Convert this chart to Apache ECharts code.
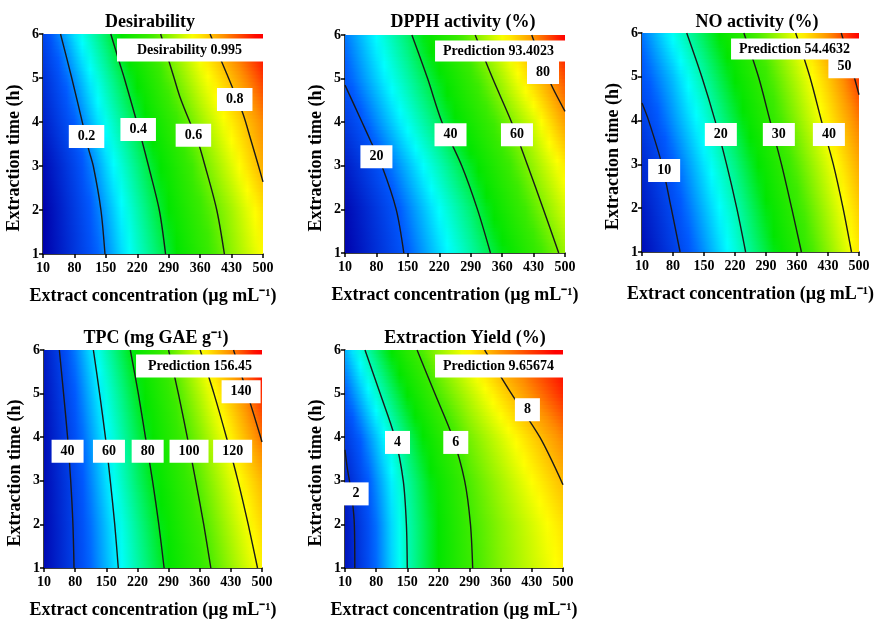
<!DOCTYPE html>
<html>
<head>
<meta charset="utf-8">
<script src="https://cdn.jsdelivr.net/npm/echarts@6/dist/echarts.min.js"></script>
<style>
  html, body { margin: 0; padding: 0; background: #fff; }
  #chart { width: 890px; height: 621px; }
</style>
</head>
<body>
<div id="chart"></div>
<script>
// ===== shared axes =====
const xTicks = [10, 80, 150, 220, 290, 360, 430, 500];
const yRows = [1, 2, 3, 4, 5, 6];

// ===== Desirability =====
// surface: one row per extraction time (1..6 h), one value per xTicks column
const desirValues = [
  [0.00, 0.10, 0.20, 0.31, 0.41, 0.52, 0.63, 0.73],
  [0.00, 0.11, 0.22, 0.33, 0.44, 0.55, 0.65, 0.76],
  [0.02, 0.13, 0.25, 0.36, 0.47, 0.59, 0.70, 0.82],
  [0.06, 0.17, 0.29, 0.40, 0.52, 0.64, 0.75, 0.86],
  [0.09, 0.21, 0.33, 0.45, 0.58, 0.70, 0.81, 0.93],
  [0.13, 0.26, 0.38, 0.51, 0.63, 0.76, 0.89, 1.00]
];
const desirRange = [0, 1];
const desirLines = [
  [[148, 1], [139, 2], [122, 3], [111, 3.4], [100, 3.89], [74, 5], [49, 6]],
  [[283, 1], [269, 2], [245, 3], [230, 3.59], [219, 4], [191, 5], [181, 5.33], [161, 6]],
  [[414, 1], [397, 2], [371, 3], [354, 3.59], [337, 4], [315, 4.57], [302, 5], [272, 6]],
  [[500, 2.64], [490, 3], [473, 3.59], [455, 4.2], [419, 5.1], [382, 6]]
];
const desirLabels = [[107, 3.67, '0.2'], [222, 3.83, '0.4'], [345, 3.7, '0.6'], [437, 4.51, '0.8']];
const desirOptimum = [500, 6, 'Desirability 0.995'];

// ===== DPPH activity (%) =====
const dpphValues = [
  [6.4, 13.7, 20.9, 28.2, 35.4, 43.4, 52.6, 61.8],
  [7.4, 15.1, 22.9, 30.6, 38.3, 47.7, 57.3, 66.5],
  [10.8, 18.7, 26.5, 34.4, 42.7, 52.2, 61.8, 71.3],
  [15.7, 23.6, 31.4, 39.3, 48.2, 57.4, 66.6, 79.0],
  [20.0, 27.6, 35.3, 43.6, 53.2, 63.4, 74.5, 85.6],
  [22.5, 30.5, 38.7, 48.6, 58.6, 69.5, 80.6, 92.5]
];
const dpphRange = [6, 93.4];
const dpphLines = [
  [[141, 1], [124, 2], [92, 3], [66, 3.59], [48, 4], [10, 4.85]],
  [[334, 1], [305, 2], [270, 3], [226, 4], [194, 5], [159, 6]],
  [[486, 1], [452, 2], [417, 3], [381, 4], [339, 5], [300, 6]],
  [[500, 4.25], [472, 4.8], [451, 5.3], [426, 6]]
];
const dpphLabels = [[80, 3.21, '20'], [245, 3.71, '40'], [393, 3.71, '60'], [451, 5.14, '80']];
const dpphOptimum = [500, 6, 'Prediction 93.4023'];

// ===== NO activity (%) =====
const noValues = [
  [4.2, 8.9, 13.6, 18.4, 23.6, 29.2, 35.3, 41.7],
  [5.5, 10.3, 15.0, 19.7, 25.3, 31.0, 37.1, 43.4],
  [6.9, 11.7, 16.5, 21.5, 27.1, 33.0, 39.0, 45.5],
  [9.0, 13.7, 18.3, 23.7, 29.4, 35.3, 41.5, 48.0],
  [11.0, 15.2, 20.4, 25.9, 31.4, 37.4, 43.8, 51.0],
  [12.7, 17.8, 23.0, 28.5, 34.0, 40.3, 47.1, 53.9]
];
const noRange = [3, 54.5];
const noLines = [
  [[96, 1], [76, 2], [55, 3], [25, 4], [10, 4.4]],
  [[244, 1], [224, 2], [201, 3], [175, 4], [145, 5], [111, 6]],
  [[370, 1], [348, 2], [325, 3], [299, 4], [273, 5], [240, 6]],
  [[483, 1], [464, 2], [442, 3], [415, 4], [389, 5], [357, 6]],
  [[500, 4.59], [489, 5], [460, 6]]
];
const noLabels = [[60, 2.86, '10'], [188, 3.68, '20'], [319, 3.68, '30'], [432, 3.68, '40'], [467, 5.23, '50']];
const noOptimum = [500, 6, 'Prediction 54.4632'];

// ===== TPC (mg GAE g-1) =====
const tpcValues = [
  [26.5, 40.5, 54.6, 68.3, 82.0, 95.0, 108.6, 121.9],
  [26.3, 41.0, 55.7, 70.3, 84.4, 98.2, 112.2, 126.3],
  [26.8, 42.2, 58.2, 73.7, 87.6, 101.9, 116.6, 131.4],
  [27.5, 44.0, 60.4, 76.0, 91.1, 106.1, 122.6, 140.8],
  [29.1, 46.4, 63.4, 79.5, 95.0, 112.0, 130.1, 148.8],
  [31.0, 49.3, 67.3, 84.2, 100.0, 119.7, 138.4, 156.4]
];
const tpcRange = [24, 156.5];
const tpcLines = [
  [[77.5, 1], [75, 2], [70, 3], [63, 4], [54, 5], [44.5, 6]],
  [[177, 1], [169, 2], [159, 3], [148, 4], [135, 5], [121, 6]],
  [[280, 1], [268, 2], [254, 3], [238, 4], [222, 5], [204, 6]],
  [[385, 1], [369, 2], [351, 3], [332, 4], [312, 5], [290, 6]],
  [[490, 1], [469, 2], [446, 3], [420, 4], [392, 5], [361, 6]],
  [[500, 3.89], [497, 4], [467, 5], [436, 6]]
];
const tpcLabels = [[63, 3.68, '40'], [156, 3.68, '60'], [243, 3.68, '80'], [336, 3.68, '100'], [434, 3.68, '120'], [453, 5.04, '140']];
const tpcOptimum = [500, 6, 'Prediction 156.45'];

// ===== Extraction Yield (%) =====
const yieldValues = [
  [1.60, 2.80, 4.00, 5.00, 5.90, 6.50, 7.00, 7.50],
  [1.64, 2.83, 4.03, 5.00, 5.97, 6.55, 7.10, 7.67],
  [1.83, 3.00, 4.13, 5.15, 6.10, 6.75, 7.40, 8.04],
  [2.20, 3.30, 4.43, 5.50, 6.39, 7.10, 7.82, 8.53],
  [2.70, 3.85, 4.99, 6.09, 6.90, 7.72, 8.50, 9.20],
  [3.20, 4.43, 5.62, 6.63, 7.55, 8.47, 9.10, 9.66]
];
const yieldRange = [1.3, 9.66];
const yieldLines = [
  [[32, 1], [31, 2], [27, 2.5], [20, 3], [15, 3.3], [10, 3.71]],
  [[150, 1], [148, 2], [141, 3], [122, 4], [89, 5], [55, 6]],
  [[297, 1], [292, 2], [279, 3], [252, 4], [212, 5], [172, 6]],
  [[500, 2.91], [448, 4], [384, 5], [324, 6]]
];
const yieldLabels = [[35, 2.7, '2'], [128, 3.88, '4'], [259, 3.88, '6'], [420, 4.63, '8']];
const yieldOptimum = [500, 6, 'Prediction 9.65674'];

// ===== colour scale (dark blue - cyan - green - yellow - red) =====
const jetStops = [
  [0.00, [0, 0, 170]],
  [0.17, [0, 90, 255]],
  [0.28, [0, 255, 255]],
  [0.36, [0, 245, 130]],
  [0.44, [0, 230, 0]],
  [0.56, [60, 235, 0]],
  [0.73, [255, 255, 0]],
  [0.86, [255, 140, 0]],
  [0.98, [255, 0, 0]],
  [1.00, [255, 0, 0]]
];

const FONT = 'Liberation Serif';

const panels = [
  { title: 'Desirability', values: desirValues, range: desirRange, lines: desirLines, labels: desirLabels, optimum: desirOptimum,
    grid: { left: 43, top: 34, width: 220, height: 220 }, titleX: 150, titleY: 13, boxPad: [4, 21, 3, 20] },
  { title: 'DPPH activity (%)', values: dpphValues, range: dpphRange, lines: dpphLines, labels: dpphLabels, optimum: dpphOptimum,
    grid: { left: 345, top: 35, width: 220, height: 218 }, titleX: 463, titleY: 13, boxPad: [3, 11, 2, 8] },
  { title: 'NO activity (%)', values: noValues, range: noRange, lines: noLines, labels: noLabels, optimum: noOptimum,
    grid: { left: 642, top: 33, width: 217, height: 219 }, titleX: 757, titleY: 13, boxPad: [3, 9, 2, 8] },
  { title: 'TPC (mg GAE g\u207B\u00B9)', values: tpcValues, range: tpcRange, lines: tpcLines, labels: tpcLabels, optimum: tpcOptimum,
    grid: { left: 44, top: 350, width: 218, height: 218 }, titleX: 156, titleY: 329, boxPad: [4, 10, 3, 12] },
  { title: 'Extraction Yield (%)', values: yieldValues, range: yieldRange, lines: yieldLines, labels: yieldLabels, optimum: yieldOptimum,
    grid: { left: 345, top: 350, width: 218, height: 218 }, titleX: 465, titleY: 329, boxPad: [4, 9, 3, 8] }
];

function colorAt(v, range) {
  let t = (v - range[0]) / (range[1] - range[0]);
  t = Math.max(0, Math.min(1, t));
  for (let i = 1; i < jetStops.length; i++) {
    if (t <= jetStops[i][0]) {
      const a = jetStops[i - 1], b = jetStops[i];
      const f = (t - a[0]) / (b[0] - a[0]);
      const c = a[1].map((ch, k) => Math.round(ch + (b[1][k] - ch) * f));
      return 'rgb(' + c.join(',') + ')';
    }
  }
  return 'rgb(255,0,0)';
}

// draws the surface between two neighbouring rows as thin horizontal strips
function surfaceRenderer(values, range) {
  const x0 = xTicks[0], xN = xTicks[xTicks.length - 1];
  return function (params, api) {
    const r = api.value(2);
    const ya = yRows[r], yb = yRows[r + 1];
    const left = api.coord([x0, ya])[0];
    const right = api.coord([xN, ya])[0];
    const K = 12, SUB = 4;
    const children = [];
    for (let k = 0; k < K; k++) {
      const t = (k + 0.5) / K;
      const pLow = api.coord([x0, ya + (yb - ya) * k / K])[1];
      const pHigh = api.coord([x0, ya + (yb - ya) * (k + 1) / K])[1];
      const row = values[r].map((v, i) => v * (1 - t) + values[r + 1][i] * t);
      const stops = [];
      for (let i = 0; i < xTicks.length - 1; i++) {
        for (let s = 0; s < SUB; s++) {
          const f = s / SUB;
          const xv = xTicks[i] + (xTicks[i + 1] - xTicks[i]) * f;
          stops.push({ offset: (xv - x0) / (xN - x0), color: colorAt(row[i] + (row[i + 1] - row[i]) * f, range) });
        }
      }
      stops.push({ offset: 1, color: colorAt(row[row.length - 1], range) });
      children.push({
        type: 'rect',
        shape: { x: left, y: pHigh - 0.5, width: right - left, height: pLow - pHigh + 1 },
        style: { fill: new echarts.graphic.LinearGradient(left, 0, right, 0, stops, true) }
      });
    }
    return { type: 'group', children: children };
  };
}

const option = {
  backgroundColor: '#fff',
  animation: false,
  title: [],
  grid: [],
  xAxis: [],
  yAxis: [],
  series: []
};

const boldText = { fontFamily: FONT, fontWeight: 'bold', color: '#000' };

panels.forEach((p, idx) => {
  option.title.push({
    text: p.title, left: p.titleX, top: p.titleY, textAlign: 'center', padding: 0,
    textStyle: Object.assign({ fontSize: 18 }, boldText)
  });
  option.grid.push(p.grid);
  option.xAxis.push({
    gridIndex: idx, type: 'value', min: xTicks[0], max: xTicks[xTicks.length - 1],
    axisLine: { show: true, lineStyle: { color: '#000', width: 1.5 } },
    axisTick: { show: true, customValues: xTicks, length: 4, lineStyle: { color: '#000', width: 1.5 } },
    axisLabel: Object.assign({ customValues: xTicks, fontSize: 14, margin: 7 }, boldText),
    splitLine: { show: false },
    name: 'Extract concentration (\u00B5g mL\u207B\u00B9)',
    nameLocation: 'middle', nameGap: 33,
    nameTextStyle: Object.assign({ fontSize: 18 }, boldText)
  });
  option.yAxis.push({
    gridIndex: idx, type: 'value', min: yRows[0], max: yRows[yRows.length - 1], interval: 1,
    axisLine: { show: true, lineStyle: { color: '#000', width: 1.5 } },
    axisTick: { show: true, length: 4, lineStyle: { color: '#000', width: 1.5 } },
    axisLabel: Object.assign({ fontSize: 14, margin: 4 }, boldText),
    splitLine: { show: false },
    name: 'Extraction time (h)',
    nameLocation: 'middle', nameGap: 20,
    nameTextStyle: Object.assign({ fontSize: 18, padding: [0, 28, 0, 0] }, boldText)
  });

  // colour surface
  option.series.push({
    type: 'custom', xAxisIndex: idx, yAxisIndex: idx, clip: true, silent: true, z: 1,
    encode: { x: 0, y: 1 },
    data: yRows.slice(0, -1).map((y, i) => [xTicks[0], y, i]),
    renderItem: surfaceRenderer(p.values, p.range)
  });

  // contour lines
  p.lines.forEach(line => {
    option.series.push({
      type: 'line', xAxisIndex: idx, yAxisIndex: idx, data: line, smooth: 0.3,
      symbol: 'none', silent: true, z: 3,
      lineStyle: { color: '#1a1a1a', width: 1.4 }
    });
  });

  // contour labels
  option.series.push({
    type: 'scatter', xAxisIndex: idx, yAxisIndex: idx, symbolSize: 0, silent: true, z: 4,
    itemStyle: { opacity: 1 },
    data: p.labels,
    label: Object.assign({
      show: true, position: 'inside', formatter: d => d.value[2],
      fontSize: 14, lineHeight: 16, backgroundColor: '#fff', padding: [4, 9, 3, 9]
    }, boldText)
  });

  // prediction box anchored at the optimum
  option.series.push({
    type: 'scatter', xAxisIndex: idx, yAxisIndex: idx, symbolSize: 0, silent: true, z: 5, clip: false,
    itemStyle: { opacity: 1 },
    data: [p.optimum],
    label: Object.assign({
      show: true, position: 'left', distance: 0, offset: [0, 16], formatter: d => d.value[2],
      fontSize: 14, lineHeight: 16, backgroundColor: '#fff', padding: p.boxPad
    }, boldText)
  });
});

const chart = echarts.init(document.getElementById('chart'), null, { renderer: 'canvas' });
chart.setOption(option);
window.addEventListener('resize', () => chart.resize());
</script>
</body>
</html>
